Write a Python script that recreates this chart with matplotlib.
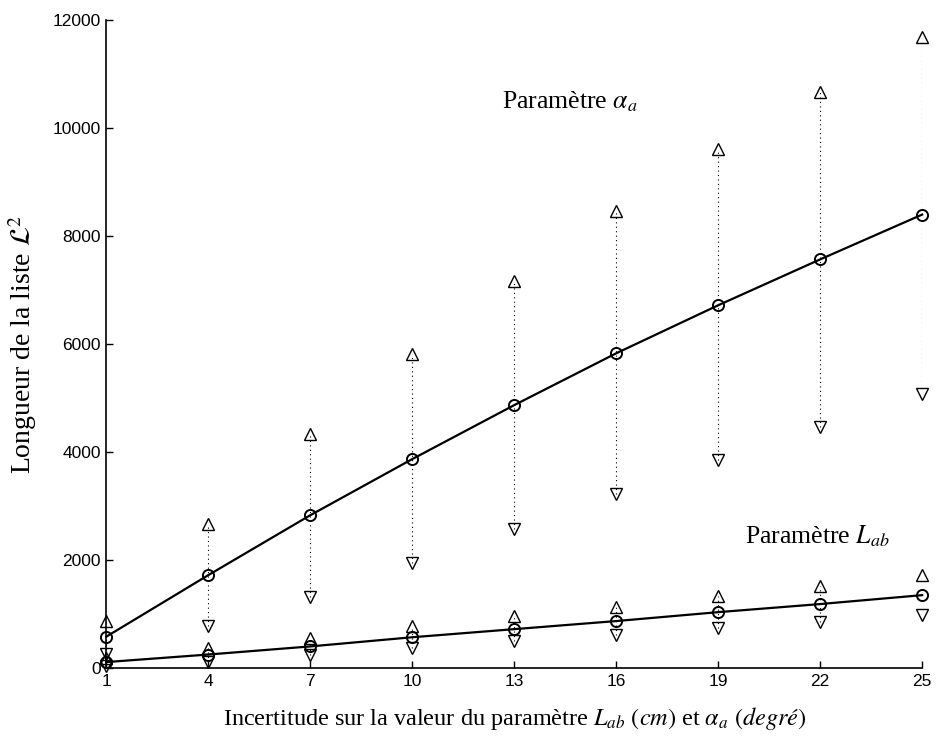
import numpy as np
import matplotlib
matplotlib.use("Agg")
import matplotlib.pyplot as plt

plt.rcParams["mathtext.fontset"] = "stix"

# incertitude (cm pour L_ab, degre pour alpha_a)
x = [1, 4, 7, 10, 13, 16, 19, 22, 25]

# parametre alpha_a : moyenne, max, min
alpha_mean = [580, 1720, 2830, 3870, 4870, 5830, 6720, 7570, 8400]
alpha_max = [870, 2670, 4330, 5810, 7170, 8460, 9610, 10670, 11690]
alpha_min = [260, 780, 1310, 1940, 2570, 3220, 3850, 4460, 5070]

# parametre L_ab : moyenne, max, min
lab_mean = [110, 250, 400, 570, 720, 870, 1035, 1185, 1350]
lab_max = [180, 380, 555, 780, 960, 1130, 1330, 1520, 1720]
lab_min = [40, 120, 240, 370, 500, 610, 740, 850, 980]

xticks = [1, 4, 7, 10, 13, 16, 19, 22, 25]
yticks = [0, 2000, 4000, 6000, 8000, 10000, 12000]

fig = plt.figure(figsize=(9.4, 7.42), dpi=100)
ax = fig.add_axes([0.113, 0.0997, 0.868, 0.873])

for mean, hi, lo in [(alpha_mean, alpha_max, alpha_min), (lab_mean, lab_max, lab_min)]:
    ax.vlines(x, lo, hi, colors="black", linestyles=(0, (1, 3)), linewidth=0.8)
    ax.plot(x, mean, "-", color="black", linewidth=1.6, clip_on=False)
    ax.plot(x, mean, "o", mfc="none", mec="black", ms=8, mew=1.4, clip_on=False)
    ax.plot(x, hi, "^", mfc="none", mec="black", ms=9, mew=1.0, clip_on=False)
    ax.plot(x, lo, "v", mfc="none", mec="black", ms=9, mew=1.0, clip_on=False)

ax.set_xlim(1, 25)
ax.set_ylim(0, 12000)
ax.set_xticks(xticks)
ax.set_yticks(yticks)
ax.tick_params(direction="in", length=5, width=1, labelsize=12.5, pad=4)
for lab in ax.get_xticklabels() + ax.get_yticklabels():
    lab.set_family("Liberation Sans")
ax.spines["top"].set_visible(False)
ax.spines["right"].set_visible(False)
for s in ("left", "bottom"):
    ax.spines[s].set_linewidth(1.2)

ax.text(12.65, 10500, r"Paramètre $\alpha_a$", fontsize=18.5, family="Liberation Serif",
        va="center", ha="left")
ax.text(19.8, 2450, r"Paramètre $L_{ab}$", fontsize=18.5, family="Liberation Serif",
        va="center", ha="left")

ax.set_xlabel(r"Incertitude sur la valeur du paramètre $L_{ab}$ $(\mathit{cm})$ et $\alpha_a$ $(\mathit{degré})$",
              fontsize=17.5, family="Liberation Serif", labelpad=12)
ax.set_ylabel(r"Longueur de la liste $\mathcal{L}^2$", fontsize=20,
              family="Liberation Serif", labelpad=10)

fig.savefig("out.png", dpi=100)
